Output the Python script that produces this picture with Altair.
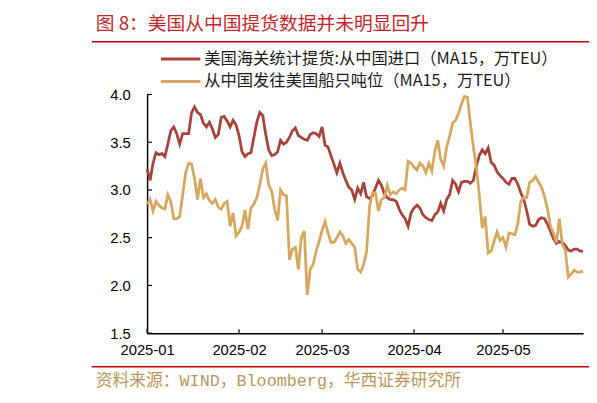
import altair as alt
import pandas as pd

# ---- data ----
series_names = ["美国海关统计提货:从中国进口（MA15，万TEU）", "从中国发往美国船只吨位（MA15，万TEU）"]
series_colors = ["#a5443a", "#d5a75f"]

red = [3.22, 3.10, 3.28, 3.39, 3.37, 3.38, 3.35, 3.48, 3.62, 3.66,
       3.59, 3.48, 3.59, 3.59, 3.59, 3.81, 3.87, 3.81, 3.79, 3.70,
       3.66, 3.71, 3.64, 3.55, 3.58, 3.76, 3.77, 3.72, 3.66, 3.73,
       3.68, 3.57, 3.40, 3.35, 3.38, 3.39, 3.55, 3.71, 3.81, 3.78,
       3.58, 3.42, 3.36, 3.37, 3.40, 3.52, 3.48, 3.50, 3.55, 3.62,
       3.65, 3.57, 3.55, 3.53, 3.52, 3.58, 3.60, 3.59, 3.56, 3.66,
       3.47, 3.45, 3.36, 3.27, 3.18, 3.28, 3.18, 3.10, 3.03, 3.00,
       2.90, 3.02, 2.96, 3.08, 2.93, 2.91, 2.94, 3.02, 3.10, 3.05,
       2.96, 2.92, 2.90, 2.90, 2.88, 2.80, 2.74, 2.70, 2.62, 2.76,
       2.81, 2.84, 2.81, 2.74, 2.71, 2.69, 2.68, 2.74, 2.77, 2.86,
       2.78, 2.90, 2.95, 3.10, 3.06, 2.98, 3.08, 3.09, 3.09, 3.07,
       3.10, 3.25, 3.36, 3.42, 3.38, 3.44, 3.29, 3.26, 3.19, 3.15,
       3.12, 3.08, 3.06, 3.12, 3.12, 3.06, 2.97, 2.90, 2.78, 2.64,
       2.62, 2.63, 2.69, 2.71, 2.70, 2.64, 2.57, 2.49, 2.44, 2.46,
       2.45, 2.42, 2.37, 2.36, 2.38, 2.38, 2.36, 2.36]

tan = [2.85, 2.90, 2.78, 2.88, 2.84, 2.81, 2.80, 2.95, 2.88, 2.70,
       2.70, 2.72, 2.95, 3.18, 3.28, 3.27, 3.12, 2.90, 3.12, 2.92,
       2.96, 2.89, 2.86, 2.90, 2.82, 2.80, 2.86, 2.88, 2.62, 2.76,
       2.52, 2.56, 2.62, 2.79, 2.59, 2.81, 2.85, 2.92, 3.05, 3.22,
       3.28, 3.05, 2.99, 2.80, 2.68, 3.00, 2.95, 2.94, 2.27, 2.38,
       2.40, 2.17, 2.50, 2.57, 1.90, 2.17, 2.22, 2.36, 2.46, 2.58,
       2.67, 2.55, 2.45, 2.45, 2.50, 2.56, 2.52, 2.44, 2.48, 2.44,
       2.40, 2.17, 2.14, 2.22, 2.35, 2.83, 2.97, 2.97, 2.78, 2.90,
       2.92, 3.05, 2.95, 2.98, 2.96, 3.00, 3.02, 3.00, 3.30, 3.28,
       3.24, 3.21, 3.28, 3.25, 3.18, 3.28, 3.20, 3.40, 3.52, 3.32,
       3.25, 3.45, 3.56, 3.70, 3.73, 3.80, 3.90, 3.98, 3.97, 3.70,
       3.45, 3.24, 2.95, 2.60, 2.72, 2.34, 2.36, 2.46, 2.56, 2.47,
       2.50, 2.40, 2.55, 2.54, 2.53, 2.65, 2.88, 2.92, 2.92, 3.08,
       3.10, 3.14, 3.08, 3.03, 2.93, 2.80, 2.62, 2.55, 2.45, 2.70,
       2.43, 2.37, 2.09, 2.12, 2.16, 2.14, 2.14, 2.15]

start_date = "2025-01-01"
month_ticks = ["2025-01-01T00:00:00", "2025-02-01T00:00:00", "2025-03-01T00:00:00",
               "2025-04-01T00:00:00", "2025-05-01T00:00:00"]
y_ticks = [1.5, 2.0, 2.5, 3.0, 3.5, 4.0]

title_text = "图 8：美国从中国提货数据并未明显回升"
source_text = "资料来源：WIND，Bloomberg，华西证券研究所"

# ---- build table ----
dates = [d.strftime("%Y-%m-%dT00:00:00") for d in pd.date_range(start_date, periods=len(red))]
df = pd.DataFrame({
    "date": dates + dates,
    "value": red + tan,
    "series": [series_names[0]] * len(red) + [series_names[1]] * len(tan),
})

W, H = 442, 242
one = pd.DataFrame({"a": [0]})

x_enc = alt.X(
    "date:T",
    scale=alt.Scale(domain=[alt.DateTime(year=2025, month=1, date=1),
                            alt.DateTime(year=2025, month=5, date=28)]),
    axis=alt.Axis(values=[alt.DateTime(year=2025, month=m, date=1) for m in range(1, 6)],
                  format="%Y-%m", title=None, ticks=False, grid=False,
                  domainColor="black", domainWidth=1.5,
                  labelFont="Liberation Sans", labelFontSize=15, labelColor="black",
                  labelPadding=10, labelFlush=False, labelOverlap=False),
)
y_enc = alt.Y(
    "value:Q",
    scale=alt.Scale(domain=[1.5, 4.0], nice=False, zero=False),
    axis=alt.Axis(values=y_ticks, format=".1f", title=None, ticks=False, grid=False,
                  domainColor="black", domainWidth=1.5,
                  labelFont="Liberation Sans", labelFontSize=15, labelColor="black",
                  labelPadding=17),
)

lines = alt.Chart(df).mark_line(strokeWidth=2.8).encode(
    x=x_enc, y=y_enc,
    color=alt.Color("series:N", scale=alt.Scale(domain=series_names, range=series_colors), legend=None),
)

xt = alt.Chart(pd.DataFrame({"date": month_ticks})).mark_rule(color="black", strokeWidth=1.2).encode(
    x="date:T", y=alt.value(H), y2=alt.value(H - 4))
yt = alt.Chart(pd.DataFrame({"value": y_ticks})).mark_rule(color="black", strokeWidth=1.2).encode(
    y="value:Q", x=alt.value(0), x2=alt.value(5))

title = alt.Chart(one).mark_text(align="left", baseline="middle", fontSize=19,
                                 font="Noto Sans CJK SC", color="#c0282d").encode(
    text=alt.value(title_text), x=alt.value(-52), y=alt.value(-71))
top_rule = alt.Chart(one).mark_rule(color="#c00000", strokeWidth=1.5).encode(
    x=alt.value(-56), x2=alt.value(448), y=alt.value(-53.5))
bottom_rule = alt.Chart(one).mark_rule(color="#c00000", strokeWidth=1.5).encode(
    x=alt.value(-56), x2=alt.value(448), y=alt.value(276))
source = alt.Chart(one).mark_text(align="left", baseline="middle", fontSize=17,
                                  font="Liberation Mono, Noto Sans CJK SC", color="#b8975f").encode(
    text=alt.value(source_text), x=alt.value(-52), y=alt.value(290.5))

leg_layers = []
for i, (name, col) in enumerate(zip(series_names, series_colors)):
    yy = -36.0 + i * 22.8
    leg_layers.append(alt.Chart(one).mark_rule(color=col, strokeWidth=3).encode(
        x=alt.value(14), x2=alt.value(54), y=alt.value(yy)))
    leg_layers.append(alt.Chart(one).mark_text(align="left", baseline="middle", fontSize=16.5,
                                               font="Noto Sans CJK SC", color="#1a1a1a").encode(
        text=alt.value(name), x=alt.value(58), y=alt.value(yy)))

chart = alt.layer(lines, xt, yt, title, top_rule, bottom_rule, source, *leg_layers).properties(
    width=W, height=H,
    autosize=alt.AutoSizeParams(type="none"),
    padding={"left": 141, "top": 85, "right": 6, "bottom": 60},
).configure_view(stroke=None)

chart.save("out.html", embed_options={"renderer": "svg", "actions": False})
